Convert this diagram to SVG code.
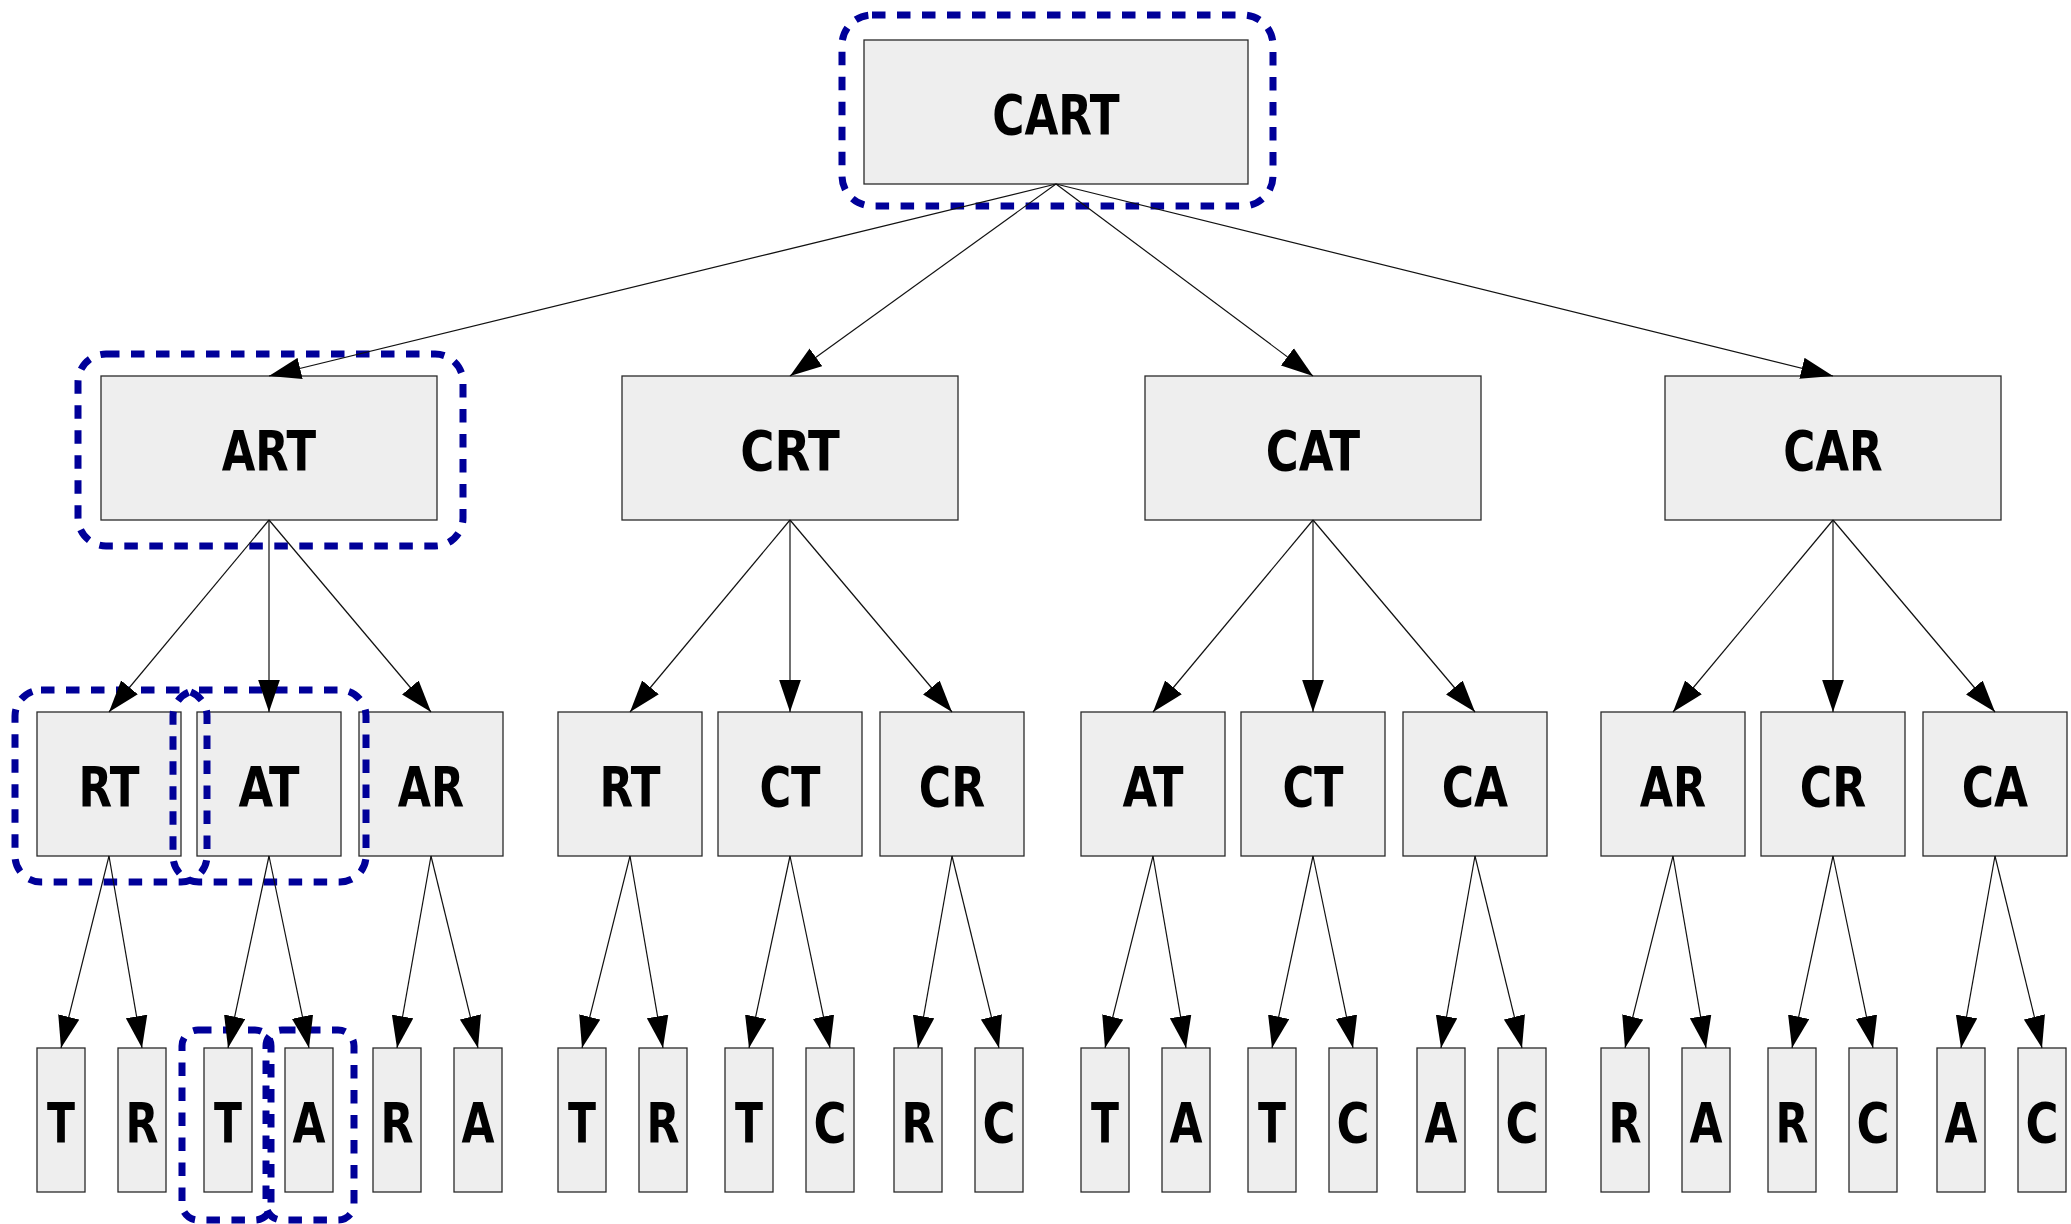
<svg xmlns="http://www.w3.org/2000/svg" width="2071" height="1224" viewBox="0 0 2071 1224">
<defs>
<style>
.box{fill:#eeeeee;stroke:#2a2a2a;stroke-width:1.3}
.lbl{font-family:"Liberation Sans Narrow","DejaVu Sans Condensed","Liberation Sans",sans-serif;font-weight:bold;font-size:56px;text-anchor:middle;fill:#000}
.edge{stroke:#111;stroke-width:1.2;fill:none;marker-end:url(#arr)}
.hl{fill:none;stroke:#000099;stroke-width:7;stroke-dasharray:13.5 11.5}
</style>
<marker id="arr" markerUnits="userSpaceOnUse" markerWidth="32" markerHeight="22" viewBox="0 0 31 21" refX="31" refY="10.5" orient="auto"><path d="M0,0 L31,10.5 L0,21 z" fill="#000"/></marker>
</defs>
<rect width="2071" height="1224" fill="#fff"/>

<g id="nodes">
<g id="n_CART"><rect class="box" x="864" y="40" width="384" height="144"/><text class="lbl" x="1056" y="133.5" textLength="127.5" lengthAdjust="spacingAndGlyphs">CART</text></g>

<g id="n_ART"><rect class="box" x="101" y="376" width="336" height="144"/><text class="lbl" x="269" y="469.5" textLength="94.4" lengthAdjust="spacingAndGlyphs">ART</text></g>
<g id="n_CRT"><rect class="box" x="622" y="376" width="336" height="144"/><text class="lbl" x="790" y="469.5" textLength="99.5" lengthAdjust="spacingAndGlyphs">CRT</text></g>
<g id="n_CAT"><rect class="box" x="1145" y="376" width="336" height="144"/><text class="lbl" x="1313" y="469.5" textLength="94.4" lengthAdjust="spacingAndGlyphs">CAT</text></g>
<g id="n_CAR"><rect class="box" x="1665" y="376" width="336" height="144"/><text class="lbl" x="1833" y="469.5" textLength="99.5" lengthAdjust="spacingAndGlyphs">CAR</text></g>

<g id="n_ART_RT"><rect class="box" x="37" y="712" width="144" height="144"/><text class="lbl" x="109" y="805.5" textLength="61.2" lengthAdjust="spacingAndGlyphs">RT</text></g>
<g id="n_ART_AT"><rect class="box" x="197" y="712" width="144" height="144"/><text class="lbl" x="269" y="805.5" textLength="61.2" lengthAdjust="spacingAndGlyphs">AT</text></g>
<g id="n_ART_AR"><rect class="box" x="359" y="712" width="144" height="144"/><text class="lbl" x="431" y="805.5" textLength="66.3" lengthAdjust="spacingAndGlyphs">AR</text></g>
<g id="n_CRT_RT"><rect class="box" x="558" y="712" width="144" height="144"/><text class="lbl" x="630" y="805.5" textLength="61.2" lengthAdjust="spacingAndGlyphs">RT</text></g>
<g id="n_CRT_CT"><rect class="box" x="718" y="712" width="144" height="144"/><text class="lbl" x="790" y="805.5" textLength="61.2" lengthAdjust="spacingAndGlyphs">CT</text></g>
<g id="n_CRT_CR"><rect class="box" x="880" y="712" width="144" height="144"/><text class="lbl" x="952" y="805.5" textLength="66.3" lengthAdjust="spacingAndGlyphs">CR</text></g>
<g id="n_CAT_AT"><rect class="box" x="1081" y="712" width="144" height="144"/><text class="lbl" x="1153" y="805.5" textLength="61.2" lengthAdjust="spacingAndGlyphs">AT</text></g>
<g id="n_CAT_CT"><rect class="box" x="1241" y="712" width="144" height="144"/><text class="lbl" x="1313" y="805.5" textLength="61.2" lengthAdjust="spacingAndGlyphs">CT</text></g>
<g id="n_CAT_CA"><rect class="box" x="1403" y="712" width="144" height="144"/><text class="lbl" x="1475" y="805.5" textLength="66.3" lengthAdjust="spacingAndGlyphs">CA</text></g>
<g id="n_CAR_AR"><rect class="box" x="1601" y="712" width="144" height="144"/><text class="lbl" x="1673" y="805.5" textLength="66.3" lengthAdjust="spacingAndGlyphs">AR</text></g>
<g id="n_CAR_CR"><rect class="box" x="1761" y="712" width="144" height="144"/><text class="lbl" x="1833" y="805.5" textLength="66.3" lengthAdjust="spacingAndGlyphs">CR</text></g>
<g id="n_CAR_CA"><rect class="box" x="1923" y="712" width="144" height="144"/><text class="lbl" x="1995" y="805.5" textLength="66.3" lengthAdjust="spacingAndGlyphs">CA</text></g>

<g id="n_l4_1"><rect class="box" x="37" y="1048" width="48" height="144"/><text class="lbl" x="61" y="1141.5" textLength="28" lengthAdjust="spacingAndGlyphs">T</text></g>
<g id="n_l4_2"><rect class="box" x="118" y="1048" width="48" height="144"/><text class="lbl" x="142" y="1141.5" textLength="33" lengthAdjust="spacingAndGlyphs">R</text></g>
<g id="n_l4_3"><rect class="box" x="204" y="1048" width="48" height="144"/><text class="lbl" x="228" y="1141.5" textLength="28" lengthAdjust="spacingAndGlyphs">T</text></g>
<g id="n_l4_4"><rect class="box" x="285" y="1048" width="48" height="144"/><text class="lbl" x="309" y="1141.5" textLength="33" lengthAdjust="spacingAndGlyphs">A</text></g>
<g id="n_l4_5"><rect class="box" x="373" y="1048" width="48" height="144"/><text class="lbl" x="397" y="1141.5" textLength="33" lengthAdjust="spacingAndGlyphs">R</text></g>
<g id="n_l4_6"><rect class="box" x="454" y="1048" width="48" height="144"/><text class="lbl" x="478" y="1141.5" textLength="33" lengthAdjust="spacingAndGlyphs">A</text></g>
<g id="n_l4_7"><rect class="box" x="558" y="1048" width="48" height="144"/><text class="lbl" x="582" y="1141.5" textLength="28" lengthAdjust="spacingAndGlyphs">T</text></g>
<g id="n_l4_8"><rect class="box" x="639" y="1048" width="48" height="144"/><text class="lbl" x="663" y="1141.5" textLength="33" lengthAdjust="spacingAndGlyphs">R</text></g>
<g id="n_l4_9"><rect class="box" x="725" y="1048" width="48" height="144"/><text class="lbl" x="749" y="1141.5" textLength="28" lengthAdjust="spacingAndGlyphs">T</text></g>
<g id="n_l4_10"><rect class="box" x="806" y="1048" width="48" height="144"/><text class="lbl" x="830" y="1141.5" textLength="33" lengthAdjust="spacingAndGlyphs">C</text></g>
<g id="n_l4_11"><rect class="box" x="894" y="1048" width="48" height="144"/><text class="lbl" x="918" y="1141.5" textLength="33" lengthAdjust="spacingAndGlyphs">R</text></g>
<g id="n_l4_12"><rect class="box" x="975" y="1048" width="48" height="144"/><text class="lbl" x="999" y="1141.5" textLength="33" lengthAdjust="spacingAndGlyphs">C</text></g>
<g id="n_l4_13"><rect class="box" x="1081" y="1048" width="48" height="144"/><text class="lbl" x="1105" y="1141.5" textLength="28" lengthAdjust="spacingAndGlyphs">T</text></g>
<g id="n_l4_14"><rect class="box" x="1162" y="1048" width="48" height="144"/><text class="lbl" x="1186" y="1141.5" textLength="33" lengthAdjust="spacingAndGlyphs">A</text></g>
<g id="n_l4_15"><rect class="box" x="1248" y="1048" width="48" height="144"/><text class="lbl" x="1272" y="1141.5" textLength="28" lengthAdjust="spacingAndGlyphs">T</text></g>
<g id="n_l4_16"><rect class="box" x="1329" y="1048" width="48" height="144"/><text class="lbl" x="1353" y="1141.5" textLength="33" lengthAdjust="spacingAndGlyphs">C</text></g>
<g id="n_l4_17"><rect class="box" x="1417" y="1048" width="48" height="144"/><text class="lbl" x="1441" y="1141.5" textLength="33" lengthAdjust="spacingAndGlyphs">A</text></g>
<g id="n_l4_18"><rect class="box" x="1498" y="1048" width="48" height="144"/><text class="lbl" x="1522" y="1141.5" textLength="33" lengthAdjust="spacingAndGlyphs">C</text></g>
<g id="n_l4_19"><rect class="box" x="1601" y="1048" width="48" height="144"/><text class="lbl" x="1625" y="1141.5" textLength="33" lengthAdjust="spacingAndGlyphs">R</text></g>
<g id="n_l4_20"><rect class="box" x="1682" y="1048" width="48" height="144"/><text class="lbl" x="1706" y="1141.5" textLength="33" lengthAdjust="spacingAndGlyphs">A</text></g>
<g id="n_l4_21"><rect class="box" x="1768" y="1048" width="48" height="144"/><text class="lbl" x="1792" y="1141.5" textLength="33" lengthAdjust="spacingAndGlyphs">R</text></g>
<g id="n_l4_22"><rect class="box" x="1849" y="1048" width="48" height="144"/><text class="lbl" x="1873" y="1141.5" textLength="33" lengthAdjust="spacingAndGlyphs">C</text></g>
<g id="n_l4_23"><rect class="box" x="1937" y="1048" width="48" height="144"/><text class="lbl" x="1961" y="1141.5" textLength="33" lengthAdjust="spacingAndGlyphs">A</text></g>
<g id="n_l4_24"><rect class="box" x="2018" y="1048" width="48" height="144"/><text class="lbl" x="2042" y="1141.5" textLength="33" lengthAdjust="spacingAndGlyphs">C</text></g>
</g>

<g id="highlights">
<rect class="hl" x="842" y="15" width="431" height="191" rx="30"/>
<rect class="hl" x="78" y="354" width="385" height="192" rx="28"/>
<rect class="hl" x="15" y="690" width="192" height="192" rx="26"/>
<rect class="hl" x="173" y="690" width="193" height="192" rx="26"/>
<rect class="hl" x="182" y="1030" width="89" height="190" rx="16"/>
<rect class="hl" x="266" y="1030" width="88" height="190" rx="16"/>
</g>

<g id="connectors">
<path class="edge" d="M1056,184 L269,376"/>
<path class="edge" d="M1056,184 L790,376"/>
<path class="edge" d="M1056,184 L1313,376"/>
<path class="edge" d="M1056,184 L1833,376"/>

<path class="edge" d="M269,520 L109,712"/>
<path class="edge" d="M269,520 L269,712"/>
<path class="edge" d="M269,520 L431,712"/>
<path class="edge" d="M790,520 L630,712"/>
<path class="edge" d="M790,520 L790,712"/>
<path class="edge" d="M790,520 L952,712"/>
<path class="edge" d="M1313,520 L1153,712"/>
<path class="edge" d="M1313,520 L1313,712"/>
<path class="edge" d="M1313,520 L1475,712"/>
<path class="edge" d="M1833,520 L1673,712"/>
<path class="edge" d="M1833,520 L1833,712"/>
<path class="edge" d="M1833,520 L1995,712"/>

<path class="edge" d="M109,856 L61,1048"/>
<path class="edge" d="M109,856 L142,1048"/>
<path class="edge" d="M269,856 L228,1048"/>
<path class="edge" d="M269,856 L309,1048"/>
<path class="edge" d="M431,856 L397,1048"/>
<path class="edge" d="M431,856 L478,1048"/>
<path class="edge" d="M630,856 L582,1048"/>
<path class="edge" d="M630,856 L663,1048"/>
<path class="edge" d="M790,856 L749,1048"/>
<path class="edge" d="M790,856 L830,1048"/>
<path class="edge" d="M952,856 L918,1048"/>
<path class="edge" d="M952,856 L999,1048"/>
<path class="edge" d="M1153,856 L1105,1048"/>
<path class="edge" d="M1153,856 L1186,1048"/>
<path class="edge" d="M1313,856 L1272,1048"/>
<path class="edge" d="M1313,856 L1353,1048"/>
<path class="edge" d="M1475,856 L1441,1048"/>
<path class="edge" d="M1475,856 L1522,1048"/>
<path class="edge" d="M1673,856 L1625,1048"/>
<path class="edge" d="M1673,856 L1706,1048"/>
<path class="edge" d="M1833,856 L1792,1048"/>
<path class="edge" d="M1833,856 L1873,1048"/>
<path class="edge" d="M1995,856 L1961,1048"/>
<path class="edge" d="M1995,856 L2042,1048"/>
</g>
</svg>
